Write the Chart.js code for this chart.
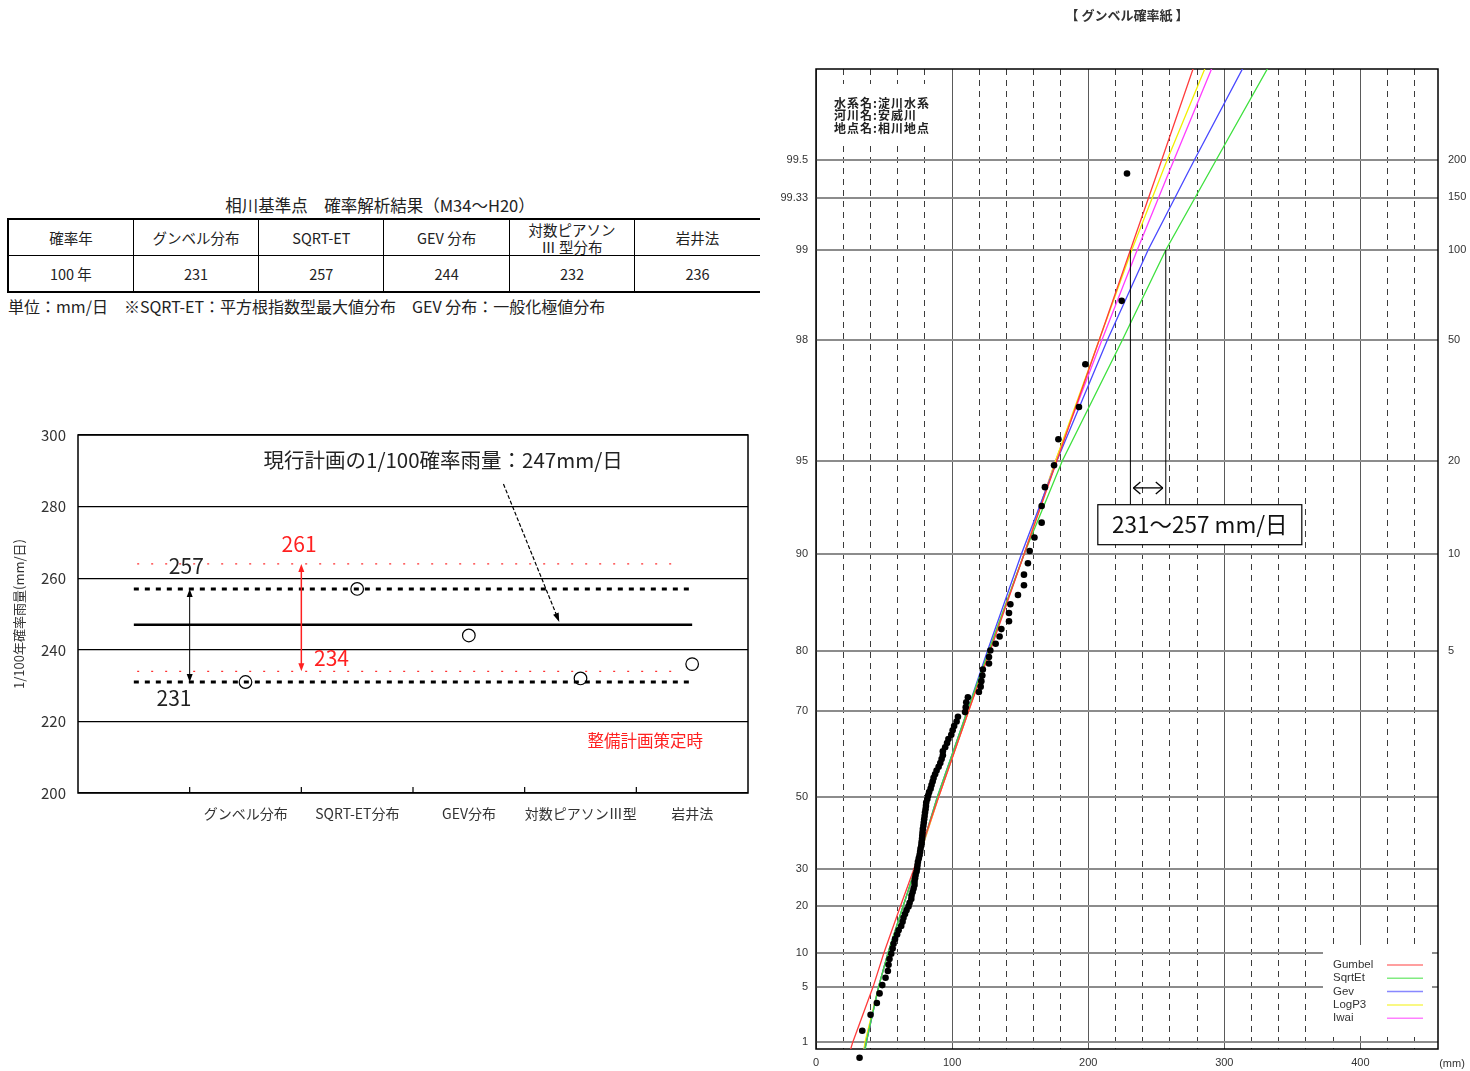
<!DOCTYPE html>
<html lang="ja">
<head>
<meta charset="utf-8">
<title>相川基準点 確率解析結果</title>
<script src="https://cdn.jsdelivr.net/npm/chart.js@4.4.1/dist/chart.umd.min.js"></script>
<style>
  html, body { margin: 0; padding: 0; background: #fff; }
  body { width: 1470px; height: 1071px; position: relative; overflow: hidden;
         font-family: "Noto Sans CJK JP", "Noto Sans", sans-serif; color: #222; }
  #tableTitle { position: absolute; left: 0; top: 193px; width: 760px; text-align: center;
                font-size: 16.5px; line-height: 24px; }
  #resultTable { position: absolute; left: 7px; top: 218px; width: 753px; table-layout: fixed;
                 border-collapse: collapse; font-size: 14.5px; }
  #resultTable td { height: 35px; padding: 0; text-align: center; line-height: 17px;
                    border-left: 1.5px solid #000; }
  #resultTable td:first-child { border-left: 2px solid #000; }
  #resultTable tr:first-child td { border-top: 2px solid #000; border-bottom: 1.5px solid #000; }
  #resultTable tr:last-child td { border-bottom: 2px solid #000; }
  #note { position: absolute; left: 8px; top: 295px; font-size: 16px; line-height: 22px; }
  #rainChart { position: absolute; left: 0; top: 420px; }
  #paperChart { position: absolute; left: 770px; top: 0; }
</style>
</head>
<body>
<div id="tableTitle">相川基準点　確率解析結果（M34～H20）</div>
<table id="resultTable"></table>
<div id="note">単位：mm/日　※SQRT-ET：平方根指数型最大値分布　GEV 分布：一般化極値分布</div>
<canvas id="rainChart" width="770" height="420"></canvas>
<canvas id="paperChart" width="700" height="1071"></canvas>
<script>
// ---- 1/100 rainfall by method ----
const methodNames = ['グンベル分布', 'SQRT-ET分布', 'GEV分布', '対数ピアソンⅢ型', '岩井法'];
const tableHeads = ['確率年', 'グンベル分布', 'SQRT-ET', 'GEV 分布', '対数ピアソン<br>Ⅲ 型分布', '岩井法'];
const returnLabel = '100 年';
const rain100 = [231, 257, 244, 232, 236];
const planRain = 247;
const planRange = [234, 264];          // red band (as drawn)
const planRangeLabels = ['234', '261'];
const rainTicks = [200, 220, 240, 260, 280, 300];
const lineSpan = [0.5, 5.5];
const redSpan = [0.53, 5.37];

// ---- Gumbel probability paper ----
const probTicks = [1, 5, 10, 20, 30, 50, 70, 80, 90, 95, 98, 99, 99.33, 99.5];
const returnTicks = [5, 10, 20, 50, 100, 150, 200];
const mmTicks = [0, 100, 200, 300, 400];
const mmGridStep = 20;
const mmMax = 457;
const paperTop = 6.0;
const paperBottom = -1.58;

const fitProb   = [0.5, 1, 5, 10, 20, 30, 50, 70, 80, 90, 95, 98, 99, 99.5, 99.8];
const gumbelFit = [23, 27, 42, 50, 62, 72, 90, 112, 128, 153, 177, 208, 231, 254, 284];
const sqrtEtFit = [35, 37, 46, 53, 64, 73, 89, 111, 127, 153, 181, 225, 257, 294, 343];
const gevFit    = [34, 37, 46, 53, 64, 73, 89, 111, 126, 151, 177, 214, 244, 278, 324];
const logP3Fit  = [34, 36, 46, 53, 64, 73, 90, 112, 127, 153, 176, 208, 232, 258, 294];
const iwaiFit   = [34, 37, 46, 53, 64, 73, 90, 112, 127, 153, 176, 210, 236, 263, 299];

// annual max daily rainfall, sorted large -> small (mm)
const obsMm = [
  228.5, 224.6, 197.9, 193.2, 178.1, 174.9, 168.2, 165.8, 165.8, 160.5,
  157.0, 155.7, 152.8, 152.8, 148.4, 142.8, 141.8, 141.8, 136.2, 134.9,
  132.0, 128.1, 127.1, 127.1, 122.6, 122.2, 121.5, 121.0, 119.7, 111.6,
  110.4, 110.0, 109.5, 104.3, 103.3, 101.5, 100.4, 99.4, 97.3, 96.3,
  94.9, 93.2, 93.2, 92.3, 91.3, 90.1, 88.6, 87.5, 86.4, 85.7,
  84.9, 84.2, 83.1, 82.4, 81.8, 81.0, 80.8, 80.5, 80.1, 79.8,
  79.5, 79.2, 78.9, 78.5, 78.3, 78.1, 77.9, 77.6, 77.4, 76.8,
  76.5, 76.1, 75.5, 74.9, 74.6, 74.3, 73.9, 73.2, 72.8, 72.4,
  72.4, 71.7, 71.0, 70.2, 70.0, 68.8, 68.0, 66.5, 65.4, 64.3,
  63.6, 62.6, 60.7, 59.6, 58.1, 57.0, 56.3, 55.3, 54.0, 53.3,
  52.8, 51.1, 48.7, 46.7, 44.7, 40.1, 34.0, 32.0
];
const siteInfo = ['水系名:淀川水系', '河川名:安威川', '地点名:相川地点'];
const fitNames = ['Gumbel', 'SqrtEt', 'Gev', 'LogP3', 'Iwai'];
const fitColors = ['#ff3b3b', '#3ee03e', '#4848ff', '#f2f000', '#ff3cff'];
const rangeNote = { x: 282, boxTop: 2.63, arrowY: 2.76 };

Chart.defaults.font.family = '"Noto Sans CJK JP", "Noto Sans", sans-serif';

const reducedVariate = p => -Math.log(-Math.log(p / 100));

// table
document.getElementById('resultTable').innerHTML =
  '<tr>' + tableHeads.map(h => `<td>${h}</td>`).join('') + '</tr>' +
  '<tr><td>' + returnLabel + '</td>' + rain100.map(v => `<td>${v}</td>`).join('') + '</tr>';

function arrowHead(ctx, x, y, dx, dy, len, half) {
  const l = Math.hypot(dx, dy), ux = dx / l, uy = dy / l;
  ctx.beginPath();
  ctx.moveTo(x, y);
  ctx.lineTo(x - ux * len - uy * half, y - uy * len + ux * half);
  ctx.lineTo(x - ux * len + uy * half, y - uy * len - ux * half);
  ctx.closePath();
  ctx.fill();
}

function segment(ctx, x1, y1, x2, y2) {
  ctx.beginPath();
  ctx.moveTo(x1, y1);
  ctx.lineTo(x2, y2);
  ctx.stroke();
}

// ---------- left chart ----------
const rainDecor = {
  id: 'rainDecor',
  afterDatasetsDraw(chart) {
    const { ctx, chartArea: a, scales: { x, y } } = chart;
    ctx.save();
    ctx.strokeStyle = '#000';
    ctx.lineWidth = 1.5;
    ctx.strokeRect(a.left, a.top, a.right - a.left, a.bottom - a.top);
    ctx.lineWidth = 1.2;
    x.ticks.forEach(t => {
      const px = x.getPixelForValue(t.value);
      segment(ctx, px, a.bottom, px, a.bottom - 6);
    });

    // range arrows
    const hi = Math.max(...rain100), lo = Math.min(...rain100);
    const drawDouble = (xv, v1, v2, color, lw) => {
      const px = x.getPixelForValue(xv), p1 = y.getPixelForValue(v1), p2 = y.getPixelForValue(v2);
      ctx.strokeStyle = color; ctx.fillStyle = color; ctx.lineWidth = lw;
      segment(ctx, px, p1 + 4, px, p2 - 4);
      arrowHead(ctx, px, p1, 0, -1, 8, 3);
      arrowHead(ctx, px, p2, 0, 1, 8, 3);
    };
    drawDouble(1, hi, lo, '#000', 1);
    drawDouble(2, planRange[1], planRange[0], '#ff2020', 1.5);

    // pointer to current plan line
    const sx = x.getPixelForValue(3.81), sy = y.getPixelForValue(286.3);
    const ex = x.getPixelForValue(4.31), ey = y.getPixelForValue(planRain + 0.8);
    ctx.strokeStyle = '#000'; ctx.fillStyle = '#000'; ctx.lineWidth = 1.2;
    ctx.setLineDash([4, 2]);
    segment(ctx, sx, sy, ex - (ex - sx) * 0.05, ey - (ey - sy) * 0.05);
    ctx.setLineDash([]);
    arrowHead(ctx, ex, ey, ex - sx, ey - sy, 9, 3);

    // texts
    ctx.textAlign = 'center';
    ctx.textBaseline = 'middle';
    ctx.fillStyle = '#222';
    ctx.font = '20.5px "Noto Sans CJK JP"';
    ctx.fillText('現行計画の1/100確率雨量：' + planRain + 'mm/日', x.getPixelForValue(3.27), y.getPixelForValue(293));
    ctx.font = '21px "Noto Sans CJK JP"';
    ctx.fillText(String(hi), x.getPixelForValue(0.97), y.getPixelForValue(263.4));
    ctx.fillText(String(lo), x.getPixelForValue(0.86), y.getPixelForValue(226.5));
    ctx.fillStyle = '#ff2020';
    ctx.fillText(planRangeLabels[1], x.getPixelForValue(1.98), y.getPixelForValue(269.6));
    ctx.fillText(planRangeLabels[0], x.getPixelForValue(2.27), y.getPixelForValue(237.7));
    ctx.font = '16.5px "Noto Sans CJK JP"';
    ctx.fillText('整備計画策定時', x.getPixelForValue(5.08), y.getPixelForValue(214.5));
    ctx.restore();
  }
};

const flatLine = (xs, v, color, width, dash) => ({
  data: xs.map(xv => ({ x: xv, y: v })),
  showLine: true, pointRadius: 0, borderColor: color, borderWidth: width, borderDash: dash
});

new Chart(document.getElementById('rainChart'), {
  type: 'scatter',
  data: {
    datasets: [
      {
        data: rain100.map((v, i) => ({ x: i + 1.5, y: v })),
        pointRadius: 6.3, pointBorderWidth: 1.2, pointBorderColor: '#000',
        pointBackgroundColor: 'rgba(0,0,0,0)'
      },
      flatLine(lineSpan, Math.max(...rain100), '#000', 3, [5, 6]),
      flatLine(lineSpan, Math.min(...rain100), '#000', 3, [5, 6]),
      flatLine(lineSpan, planRain, '#000', 2.7, []),
      flatLine(redSpan, planRange[1], '#ff3030', 1.2, [2, 12]),
      flatLine(redSpan, planRange[0], '#ff3030', 1.2, [2, 12])
    ]
  },
  options: {
    responsive: false,
    animation: false,
    layout: { padding: { top: 15, right: 22, left: 0, bottom: 0 } },
    plugins: { legend: { display: false }, tooltip: { enabled: false } },
    scales: {
      x: {
        type: 'linear', min: 0, max: 6,
        afterFit: s => { s.height = 47; s.paddingLeft = 0; s.paddingRight = 0; },
        afterBuildTicks: s => { s.ticks = methodNames.map((n, i) => ({ value: i + 1 })); },
        ticks: {
          callback: (v, i) => methodNames[i], labelOffset: 56, padding: 12,
          autoSkip: false, maxRotation: 0, color: '#333', font: { size: 14 }
        },
        grid: { display: false, drawTicks: false },
        border: { display: false }
      },
      y: {
        min: 200, max: 300,
        afterFit: s => { s.width = 78; s.paddingTop = 9; s.paddingBottom = 9; },
        afterBuildTicks: s => { s.ticks = rainTicks.map(v => ({ value: v })); },
        ticks: { padding: 12, color: '#333', font: { size: 15 } },
        grid: { color: '#000', lineWidth: 1.2, drawTicks: false },
        border: { display: false },
        title: {
          display: true, text: '1/100年確率雨量(mm/日)', color: '#333',
          font: { size: 13 }, padding: { top: 11, bottom: 0 }
        }
      }
    }
  },
  plugins: [rainDecor]
});

// ---------- Gumbel paper ----------
const paperDecor = {
  id: 'paperDecor',
  beforeDatasetsDraw(chart) {
    const { ctx, chartArea: a } = chart;
    ctx.save();
    ctx.fillStyle = '#fff';
    ctx.fillRect(a.left + 12, a.top + 15, 113, 61);
    ctx.fillRect(a.right - 115, a.bottom - 104, 109, 91);

    ctx.fillStyle = '#222';
    ctx.textBaseline = 'middle';
    ctx.font = 'bold 12px "Noto Sans CJK JP"';
    ctx.letterSpacing = '1px';
    siteInfo.forEach((t, i) => ctx.fillText(t, a.left + 18, a.top + 34 + i * 12.8));
    ctx.letterSpacing = '0px';

    ctx.font = '11.5px "Liberation Sans"';
    fitNames.forEach((n, i) => {
      const yy = a.bottom - 84 + i * 13.3;
      ctx.fillStyle = '#333';
      ctx.fillText(n, a.right - 105, yy);
      ctx.strokeStyle = fitColors[i];
      ctx.globalAlpha = 0.65;
      ctx.lineWidth = 1.5;
      segment(ctx, a.right - 51, yy, a.right - 15, yy);
      ctx.globalAlpha = 1;
    });

    ctx.strokeStyle = '#000';
    ctx.lineWidth = 1.5;
    ctx.strokeRect(a.left, a.top, a.right - a.left, a.bottom - a.top);

    ctx.fillStyle = '#333';
    ctx.textAlign = 'center';
    ctx.font = 'bold 13px "Noto Sans CJK JP"';
    ctx.fillText('【 グンベル確率紙 】', 357, 15);
    ctx.font = '11px "Liberation Sans"';
    ctx.fillText('(mm)', 682, 1064);
    ctx.restore();
  },
  afterDatasetsDraw(chart) {
    const { ctx, chartArea: a, scales: { x, y } } = chart;

    // plotted points falling outside the frame (the library skips them)
    ctx.save();
    ctx.fillStyle = '#000';
    chart.getDatasetMeta(0).data.forEach(pt => {
      if (pt.y > a.bottom || pt.y < a.top) {
        ctx.beginPath();
        ctx.arc(pt.x, pt.y, 3.3, 0, Math.PI * 2);
        ctx.fill();
      }
    });
    ctx.restore();

    const lo = Math.min(...rain100), hi = Math.max(...rain100);
    const yTop = y.getPixelForValue(reducedVariate(99));
    const yBox = y.getPixelForValue(rangeNote.boxTop);
    const x1 = x.getPixelForValue(lo), x2 = x.getPixelForValue(hi);
    ctx.save();
    ctx.strokeStyle = '#000';
    ctx.fillStyle = '#000';
    ctx.lineWidth = 1;
    segment(ctx, x1, yTop, x1, yBox);
    segment(ctx, x2, yTop, x2, yBox);

    const ay = y.getPixelForValue(rangeNote.arrowY);
    ctx.lineWidth = 1.3;
    segment(ctx, x1 + 3, ay, x2 - 3, ay);
    segment(ctx, x1 + 3, ay, x1 + 10, ay - 6);
    segment(ctx, x1 + 3, ay, x1 + 10, ay + 6);
    segment(ctx, x2 - 3, ay, x2 - 10, ay - 6);
    segment(ctx, x2 - 3, ay, x2 - 10, ay + 6);

    const bx = x.getPixelForValue(rangeNote.x);
    ctx.fillStyle = '#fff';
    ctx.fillRect(bx - 102, yBox, 204, 40);
    ctx.lineWidth = 1.2;
    ctx.strokeRect(bx - 102, yBox, 204, 40);
    ctx.fillStyle = '#111';
    ctx.font = '22.5px "Noto Sans CJK JP"';
    ctx.textAlign = 'center';
    ctx.textBaseline = 'middle';
    ctx.fillText(lo + '～' + hi + ' mm/日', bx, yBox + 20);
    ctx.restore();
  }
};

const fitData = [gumbelFit, sqrtEtFit, gevFit, logP3Fit, iwaiFit];
const sampleSize = obsMm.length;

new Chart(document.getElementById('paperChart'), {
  type: 'scatter',
  data: {
    datasets: [
      {
        label: '観測値',
        data: obsMm.map((v, i) => ({
          x: v,
          y: reducedVariate(100 * (1 - (i + 1 - 0.4) / (sampleSize + 0.2)))
        })),
        pointRadius: 3.3, pointBackgroundColor: '#000', pointBorderWidth: 0,
        clip: false
      },
      ...fitData.map((vals, k) => ({
        label: fitNames[k],
        data: fitProb.map((p, i) => ({ x: vals[i], y: reducedVariate(p) })),
        showLine: true, pointRadius: 0, borderColor: fitColors[k], borderWidth: 1.3
      }))
    ]
  },
  options: {
    responsive: false,
    animation: false,
    layout: { padding: { top: 69, right: 0, left: 0, bottom: 0 } },
    plugins: { legend: { display: false }, tooltip: { enabled: false } },
    scales: {
      x: {
        type: 'linear', min: 0, max: mmMax,
        afterFit: s => { s.height = 22; },
        afterBuildTicks: s => {
          const t = [];
          for (let v = 0; v <= mmMax; v += mmGridStep) t.push({ value: v });
          s.ticks = t;
        },
        ticks: {
          autoSkip: false, maxRotation: 0, padding: 7, color: '#333',
          font: { size: 11, family: '"Liberation Sans"' },
          callback: v => (mmTicks.includes(v) ? String(v) : '')
        },
        grid: {
          drawTicks: false, lineWidth: 1,
          color: c => (c.tick && c.tick.value % 100 === 0 ? '#5a5a5a' : '#3c3c3c')
        },
        border: { display: false, dash: c => (c.tick && c.tick.value % 100 !== 0 ? [6, 5] : []) }
      },
      y: {
        min: paperBottom, max: paperTop,
        afterFit: s => { s.width = 46; },
        afterBuildTicks: s => { s.ticks = probTicks.map(p => ({ value: reducedVariate(p) })); },
        ticks: {
          autoSkip: false, padding: 8, color: '#333',
          font: { size: 11, family: '"Liberation Sans"' },
          callback: (v, i) => String(probTicks[i])
        },
        grid: { color: '#8c8c8c', lineWidth: 2, drawTicks: false },
        border: { display: false }
      },
      y2: {
        position: 'right', min: paperBottom, max: paperTop,
        afterFit: s => { s.width = 32; },
        afterBuildTicks: s => { s.ticks = returnTicks.map(T => ({ value: reducedVariate(100 - 100 / T) })); },
        ticks: {
          autoSkip: false, padding: 10, color: '#333',
          font: { size: 11, family: '"Liberation Sans"' },
          callback: (v, i) => String(returnTicks[i])
        },
        grid: { display: false, drawTicks: false },
        border: { display: false }
      }
    }
  },
  plugins: [paperDecor]
});
</script>
</body>
</html>
